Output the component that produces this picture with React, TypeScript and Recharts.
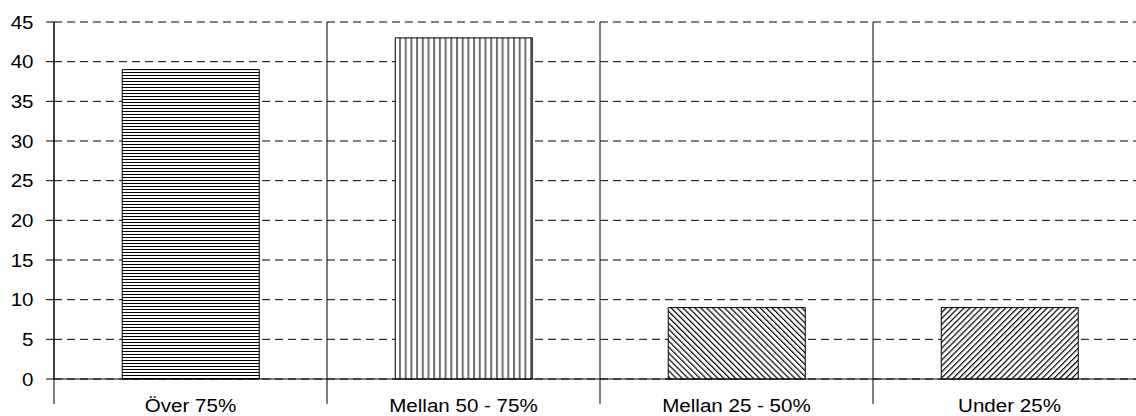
import React from 'react';
import { BarChart, Bar, XAxis, YAxis, CartesianGrid, Cell } from 'recharts';

const categories = ['Över 75%', 'Mellan 50 - 75%', 'Mellan 25 - 50%', 'Under 25%'];
const values = [39, 43, 9, 9];
const yTicks = [0, 5, 10, 15, 20, 25, 30, 35, 40, 45];
const patternIds = ['pat-h', 'pat-v', 'pat-bd', 'pat-fd'];

const data = categories.map((name, i) => ({ name, value: values[i] }));

const W = 1150;
const H = 416;
const M_TOP = 22;
const M_RIGHT = 4;
const Y_W = 54;
const X_H = 37;
const AXIS_Y = H - X_H;
const BAND = (W - Y_W - M_RIGHT) / categories.length;
const FONT = '"Liberation Sans", Arial, sans-serif';

const XTick = (props: any) => {
  const { x, payload } = props;
  const off = payload && typeof payload.offset === 'number' && payload.offset > 0 ? payload.offset : BAND / 2;
  const bx = x - off;
  return (
    <g>
      <line x1={bx} y1={M_TOP} x2={bx} y2={AXIS_Y + 25} stroke="#000" strokeWidth={1} />
      <text
        transform={`translate(${x},${AXIS_Y + 32.5}) scale(1.1,1)`}
        textAnchor="middle"
        fontFamily={FONT}
        fontSize={18.7}
        fill="#000"
      >
        {payload.value}
      </text>
    </g>
  );
};

const YTick = (props: any) => {
  const { y, payload } = props;
  return (
    <text
      transform={`translate(${Y_W - 20.5},${y}) scale(1.1,1)`}
      textAnchor="end"
      dy="0.36em"
      fontFamily={FONT}
      fontSize={18.7}
      fill="#000"
    >
      {payload.value}
    </text>
  );
};

export default function App() {
  return (
    <div style={{ position: 'absolute', left: 0, top: 0, width: 1136, height: 416, overflow: 'hidden', background: '#fff' }}>
      <svg width={0} height={0} style={{ position: 'absolute' }}>
        <defs>
          <pattern id="pat-h" patternUnits="userSpaceOnUse" width={4} height={3}>
            <rect width={4} height={3} fill="#fff" />
            <line x1={0} y1={0.5} x2={4} y2={0.5} stroke="#000" strokeWidth={1} />
          </pattern>
          <pattern id="pat-v" patternUnits="userSpaceOnUse" width={5.7} height={4}>
            <rect width={5.7} height={4} fill="#fff" />
            <line x1={1} y1={0} x2={1} y2={4} stroke="#6e6e6e" strokeWidth={2} />
          </pattern>
          <pattern id="pat-bd" patternUnits="userSpaceOnUse" width={4.2} height={10} patternTransform="rotate(-45)">
            <rect width={4.2} height={10} fill="#fff" />
            <line x1={0.6} y1={0} x2={0.6} y2={10} stroke="#000" strokeWidth={1.2} />
          </pattern>
          <pattern id="pat-fd" patternUnits="userSpaceOnUse" width={4.2} height={10} patternTransform="rotate(45)">
            <rect width={4.2} height={10} fill="#fff" />
            <line x1={0.6} y1={0} x2={0.6} y2={10} stroke="#000" strokeWidth={1.2} />
          </pattern>
        </defs>
      </svg>
      <BarChart
        width={W}
        height={H}
        data={data}
        margin={{ top: M_TOP, right: M_RIGHT, left: 0, bottom: 0 }}
        barCategoryGap="25%"
      >
        <CartesianGrid vertical={false} stroke="#000" strokeDasharray="8 5" />
        <XAxis
          dataKey="name"
          height={X_H}
          axisLine={{ stroke: '#000' }}
          tickLine={false}
          interval={0}
          tick={<XTick />}
        />
        <YAxis
          width={Y_W}
          domain={[0, 45]}
          ticks={yTicks}
          interval={0}
          tickSize={8}
          axisLine={{ stroke: '#000' }}
          tickLine={{ stroke: '#000' }}
          tick={<YTick />}
        />
        <Bar dataKey="value" stroke="#000" strokeWidth={1} isAnimationActive={false}>
          {data.map((d, i) => (
            <Cell key={d.name} fill={`url(#${patternIds[i]})`} />
          ))}
        </Bar>
      </BarChart>
    </div>
  );
}
